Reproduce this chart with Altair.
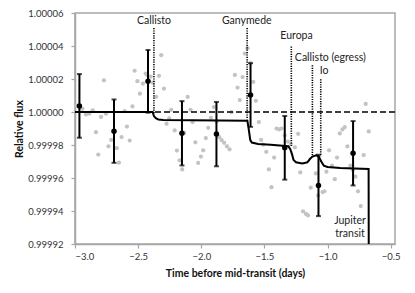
import altair as alt
import pandas as pd

# ---- data ----
gray_x = [-2.987, -2.964, -2.941, -2.913, -2.887, -2.860, -2.834, -2.816, -2.794, -2.771,
          -2.755, -2.735, -2.713, -2.670, -2.652, -2.631, -2.607, -2.589, -2.567, -2.545,
          -2.528, -2.506, -2.486, -2.462, -2.441, -2.428, -2.401, -2.383, -2.357, -2.335,
          -2.317, -2.296, -2.275, -2.254, -2.238, -2.211, -2.193, -2.172, -2.151, -2.135,
          -2.108, -2.085, -2.069, -2.047, -2.025, -2.003, -1.985, -1.964, -1.945, -1.924,
          -1.900, -1.879, -1.858, -1.839, -1.819, -1.797, -1.776, -1.760, -1.734, -1.713,
          -1.695, -1.673, -1.655, -1.634, -1.610, -1.589, -1.568, -1.544, -1.526, -1.509,
          -1.485, -1.465, -1.444, -1.423, -1.404, -1.384, -1.365, -1.339, -1.315, -1.291,
          -1.259, -1.233, -1.216, -1.194, -1.171, -1.154, -1.133, -1.093, -1.075, -1.040,
          -1.025, -1.009, -0.988, -0.964, -0.943, -0.925, -0.903, -0.882, -0.864, -0.843,
          -0.819, -0.801, -0.779, -0.759, -0.737, -0.714, -0.698, -0.674]
gray_y = [1.0000037, 1.0000032, 1.0000019, 0.9999985, 0.9999990, 1.0000010, 0.9999878, 0.9999742, 0.9999970, 1.0000192,
          0.9999990, 0.9999792, 0.9999831, 0.9999781, 0.9999693, 0.9999848, 1.0000005, 0.9999912, 0.9999827, 1.0000034,
          1.0000250, 1.0000187, 1.0000111, 1.0000172, 1.0000233, 1.0000225, 1.0000214, 1.0000178, 1.0000092, 1.0000219,
          1.0000344, 1.0000142, 0.9999929, 0.9999961, 1.0000013, 0.9999888, 0.9999766, 0.9999707, 0.9999652, 0.9999873,
          1.0000091, 1.0000013, 0.9999939, 0.9999816, 0.9999691, 0.9999730, 0.9999768, 0.9999842, 0.9999904, 0.9999965,
          1.0000030, 0.9999943, 0.9999847, 0.9999829, 0.9999813, 0.9999792, 0.9999774, 0.9999999, 1.0000225, 1.0000148,
          1.0000072, 1.0000212, 1.0000354, 1.0000387, 1.0000297, 1.0000182, 1.0000068, 0.9999939, 0.9999831, 0.9999803,
          0.9999759, 0.9999652, 0.9999544, 0.9999724, 0.9999900, 0.9999894, 0.9999900, 0.9999858, 0.9999821, 0.9999806,
          0.9999786, 0.9999868, 0.9999634, 0.9999398, 0.9999382, 0.9999373, 0.9999541, 0.9999628, 0.9999494, 0.9999515,
          0.9999519, 0.9999638, 0.9999768, 0.9999675, 0.9999593, 0.9999724, 0.9999870, 0.9999894, 0.9999908, 0.9999791,
          0.9999675, 0.9999649, 0.9999608, 0.9999519, 0.9999430, 0.9999739, 1.0000049, 0.9999882]

bin_x = [-2.965, -2.691, -2.422, -2.153, -1.880, -1.610, -1.339, -1.072, -0.798]
bin_y = [1.0000037, 0.9999884, 1.0000186, 0.9999871, 0.9999866, 1.0000103, 0.9999783, 0.9999555, 0.9999750]
bin_err = [0.0000193, 0.0000192, 0.0000190, 0.0000195, 0.0000195, 0.0000193, 0.0000193, 0.0000186, 0.0000195]

model_x = [-3.0, -2.385, -2.375, -2.36, -2.34, -2.30, -1.635, -1.625, -1.612, -1.60, -1.55, -1.45,
           -1.31, -1.295, -1.28, -1.27, -1.25, -1.20, -1.16, -1.14, -1.12, -1.09, -1.07, -1.05,
           -1.03, -1.00, -0.90, -0.675, -0.674]
model_y = [1.0, 1.0, 0.9999975, 0.9999962, 0.9999955, 0.9999951, 0.9999947, 0.9999900, 0.9999830, 0.9999815, 0.9999806, 0.9999801,
           0.9999792, 0.9999775, 0.9999740, 0.9999710, 0.9999695, 0.9999688, 0.9999695, 0.9999715, 0.9999730, 0.9999737, 0.9999730, 0.9999700,
           0.9999675, 0.9999667, 0.9999660, 0.9999655, 0.99992]

moon_names = ["Callisto", "Ganymede", "Europa", "Callisto (egress)", "Io"]
moon_x = [-2.375, -1.637, -1.287, -1.120, -1.054]
moon_top = [1.0000509, 1.0000509, 1.0000397, 1.0000283, 1.0000198]
moon_bottom = [0.9999990, 0.9999955, 0.9999793, 0.9999730, 0.9999730]

label_text = ["Callisto", "Ganymede", "Europa", "Callisto (egress)", "Io", "Jupiter", "transit"]
label_x = [-2.375, -1.640, -1.246, -0.978, -1.027, -0.822, -0.822]
label_y = [1.0000553, 1.0000553, 1.0000458, 1.0000330, 1.0000249, 0.9999340, 0.9999259]

x_ticks = [-3.0, -2.5, -2.0, -1.5, -1.0, -0.5]
y_ticks = [0.99992, 0.99994, 0.99996, 0.99998, 1.00000, 1.00002, 1.00004, 1.00006]

FONT = "Lato"
xs = alt.Scale(domain=[-3.0, -0.466], nice=False, zero=False)
ys = alt.Scale(domain=[0.99992, 1.00006], nice=False, zero=False)
xa = alt.Axis(values=x_ticks, format=".1f", title="Time before mid-transit (days)",
              grid=False, tickSize=4, labelPadding=3, titlePadding=8, labelOverlap=False)
ya = alt.Axis(values=y_ticks, format=".5f", title="Relative flux",
              grid=False, tickSize=4, labelPadding=8, titlePadding=3, labelOverlap=False)

gray_df = pd.DataFrame({"x": gray_x, "y": gray_y})
bin_df = pd.DataFrame({"x": bin_x, "y": bin_y, "err": bin_err})
bin_df["lo"] = bin_df["y"] - bin_df["err"]
bin_df["hi"] = bin_df["y"] + bin_df["err"]
model_df = pd.DataFrame({"x": model_x, "y": model_y, "o": list(range(len(model_x)))})
moon_df = pd.DataFrame({"name": moon_names, "x": moon_x, "top": moon_top, "bottom": moon_bottom})
label_df = pd.DataFrame({"t": label_text, "x": label_x, "y": label_y})
ref_df = pd.DataFrame({"y": [1.0]})

X = alt.X("x:Q", scale=xs, axis=xa)


def Yf(f):
    return alt.Y(f + ":Q", scale=ys, axis=ya)


gray = alt.Chart(gray_df).mark_circle(size=18, color="#c3c3c3", opacity=1).encode(x=X, y=Yf("y"))

ref = alt.Chart(ref_df).mark_rule(color="black", strokeWidth=1.6, strokeDash=[6, 3]).encode(y=Yf("y"))

model = alt.Chart(model_df).mark_line(color="black", strokeWidth=2, clip=True).encode(
    x=X, y=Yf("y"), order="o:Q")

moons = alt.Chart(moon_df).mark_rule(color="black", strokeWidth=1.6, strokeDash=[1.2, 1.2]).encode(
    x=X, y=Yf("top"), y2="bottom:Q")

bars = alt.Chart(bin_df).mark_rule(color="black", strokeWidth=2).encode(x=X, y=Yf("lo"), y2="hi:Q")
cap_lo = alt.Chart(bin_df).mark_tick(color="black", size=5, thickness=2, orient="horizontal").encode(
    x=X, y=Yf("lo"))
cap_hi = alt.Chart(bin_df).mark_tick(color="black", size=5, thickness=2, orient="horizontal").encode(
    x=X, y=Yf("hi"))
pts = alt.Chart(bin_df).mark_circle(size=30, color="black", opacity=1).encode(x=X, y=Yf("y"))

labels = alt.Chart(label_df).mark_text(font=FONT, fontSize=10.5, color="#222222", align="center", baseline="middle").encode(
    x=X, y=Yf("y"), text="t:N")

chart = alt.layer(gray, ref, model, moons, bars, cap_lo, cap_hi, pts, labels).properties(
    width=320, height=231,
    background="white",
    autosize=alt.AutoSizeParams(type="none"),
    padding={"left": 67, "top": 5, "right": 12, "bottom": 41},
).configure_view(stroke="#a6a6a6", strokeWidth=1.5).configure_axis(
    domainColor="#a6a6a6", domainWidth=1.5, tickColor="#a6a6a6", tickWidth=1.2,
    labelFont=FONT, labelFontSize=9.5, labelColor="#333333",
    titleFont=FONT, titleFontSize=10.5, titleFontWeight="bold", titleColor="#111111",
)

chart.save("out.html", embed_options={"renderer": "svg", "actions": False})
